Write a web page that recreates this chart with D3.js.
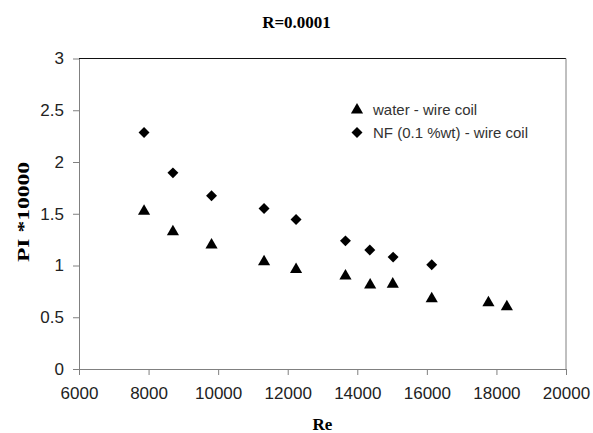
<!DOCTYPE html>
<meta charset="utf-8">
<script src="https://d3js.org/d3.v7.min.js"></script>
<style>
  body { margin: 0; background: #fff; }
</style>
<div id="chart"></div>
<script>
// data
var reWater = [7870, 8700, 9810, 11320, 12240, 13660, 14370, 15020, 16140, 17770, 18300];
var piWater = [1.525, 1.325, 1.197, 1.036, 0.962, 0.898, 0.811, 0.820, 0.679, 0.640, 0.601];
var reNF = [7870, 8700, 9810, 11320, 12240, 13660, 14360, 15030, 16140];
var piNF = [2.285, 1.895, 1.673, 1.551, 1.445, 1.238, 1.149, 1.081, 1.007];
var xTicks = [6000, 8000, 10000, 12000, 14000, 16000, 18000, 20000];
var yTicks = [0, 0.5, 1, 1.5, 2, 2.5, 3];
var seriesNames = ["water - wire coil", "NF (0.1 %wt) - wire coil"];

var W = 593, H = 433;
var margin = { top: 58.5, right: 27, bottom: 64, left: 79 },
    width = W - margin.left - margin.right,
    height = H - margin.top - margin.bottom;

var svg = d3.select("#chart").append("svg")
    .attr("width", W)
    .attr("height", H);

var g = svg.append("g")
    .attr("transform", "translate(" + margin.left + "," + margin.top + ")");

var x = d3.scaleLinear().domain([6000, 20000]).range([0, width]);
var y = d3.scaleLinear().domain([0, 3]).range([height, 0]);

// frame: top line dark, right line gray
g.append("line").attr("x1", 0).attr("x2", width).attr("y1", 0).attr("y2", 0)
    .attr("stroke", "#111").attr("stroke-width", 1);
g.append("line").attr("x1", width).attr("x2", width).attr("y1", 0).attr("y2", height)
    .attr("stroke", "#808080").attr("stroke-width", 1);

// axes
var xAxis = g.append("g")
    .attr("transform", "translate(0," + height + ")")
    .call(d3.axisBottom(x).tickValues(xTicks).tickFormat(d3.format("d"))
        .tickSizeInner(6).tickSizeOuter(0).tickPadding(12));
var yAxis = g.append("g")
    .call(d3.axisLeft(y).tickValues(yTicks).tickFormat(d3.format("~g"))
        .tickSizeInner(6).tickSizeOuter(0).tickPadding(9));

[xAxis, yAxis].forEach(function (a) {
    a.select(".domain").attr("stroke", "#808080");
    a.selectAll(".tick line").attr("stroke", "#808080");
    a.selectAll(".tick text")
        .attr("fill", "#222")
        .style("font-family", "Liberation Sans, Arial, sans-serif")
        .style("font-size", "17px");
});

// markers
var tri = d3.symbol().type(d3.symbolTriangle).size(64);
var dia = d3.symbol().type(d3.symbolSquare).size(60);

var water = reWater.map(function (d, i) { return { re: d, pi: piWater[i] }; });
var nf = reNF.map(function (d, i) { return { re: d, pi: piNF[i] }; });

g.selectAll(".water").data(water).enter().append("path")
    .attr("class", "water")
    .attr("d", tri)
    .attr("transform", function (d) { return "translate(" + x(d.re) + "," + y(d.pi) + ")"; })
    .attr("fill", "#000");

g.selectAll(".nf").data(nf).enter().append("path")
    .attr("class", "nf")
    .attr("d", dia)
    .attr("transform", function (d) { return "translate(" + x(d.re) + "," + y(d.pi) + ") rotate(45)"; })
    .attr("fill", "#000");

// legend
var legend = svg.append("g").attr("transform", "translate(357,110)");
legend.append("path").attr("d", tri).attr("fill", "#000");
legend.append("path").attr("d", dia).attr("fill", "#000")
    .attr("transform", "translate(0,22.5) rotate(45)");
legend.selectAll("text").data(seriesNames).enter().append("text")
    .attr("x", 16)
    .attr("y", function (d, i) { return i * 22.5 + 5; })
    .attr("fill", "#333")
    .style("font-family", "Liberation Sans, Arial, sans-serif")
    .style("font-size", "15px")
    .text(function (d) { return d; });

// titles
svg.append("text")
    .attr("x", W / 2).attr("y", 28)
    .attr("text-anchor", "middle")
    .style("font-family", "Liberation Serif, Times New Roman, serif")
    .style("font-weight", "bold")
    .style("font-size", "17px")
    .text("R=0.0001");

svg.append("text")
    .attr("x", margin.left + width / 2).attr("y", 430)
    .attr("text-anchor", "middle")
    .style("font-family", "Liberation Serif, Times New Roman, serif")
    .style("font-weight", "bold")
    .style("font-size", "17px")
    .text("Re");

// y title is stretched along its length in the original
svg.append("text")
    .attr("transform", "translate(29,212) rotate(-90)")
    .attr("x", -50)
    .attr("textLength", 100)
    .attr("lengthAdjust", "spacingAndGlyphs")
    .style("font-family", "Liberation Serif, Times New Roman, serif")
    .style("font-weight", "bold")
    .style("font-size", "17px")
    .text("PI *10000");
</script>
